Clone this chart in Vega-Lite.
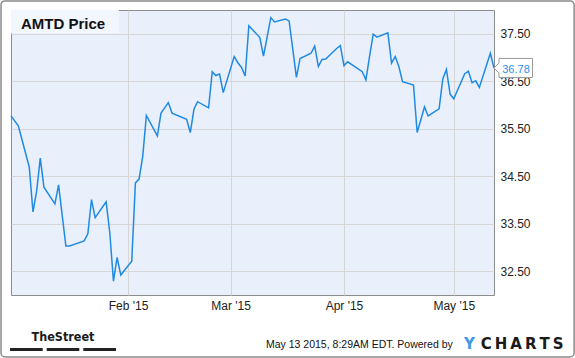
{
  "$schema": "https://vega.github.io/schema/vega-lite/v6.json",
  "width": 483,
  "height": 285,
  "autosize": "none",
  "padding": {"left": 11, "top": 10, "right": 81, "bottom": 63},
  "background": "white",
  "config": {
    "font": "Liberation Sans",
    "view": {"fill": "#EAF0FB", "stroke": "#8c8c8c", "strokeWidth": 1},
    "axis": {"labelFont": "Liberation Sans", "labelFontSize": 12, "labelColor": "#222222", "gridColor": "#d6d6d6", "gridWidth": 1, "ticks": false, "domain": false}
  },
  "data": {"values": [
    {"date": "2014-12-31T00:00", "price": 35.77},
    {"date": "2015-01-02T00:00", "price": 35.56},
    {"date": "2015-01-05T00:00", "price": 34.69},
    {"date": "2015-01-06T00:00", "price": 33.75},
    {"date": "2015-01-07T00:00", "price": 34.18},
    {"date": "2015-01-08T00:00", "price": 34.88},
    {"date": "2015-01-09T00:00", "price": 34.27},
    {"date": "2015-01-12T00:00", "price": 33.92},
    {"date": "2015-01-13T00:00", "price": 34.32},
    {"date": "2015-01-14T00:00", "price": 33.67},
    {"date": "2015-01-15T00:00", "price": 33.03},
    {"date": "2015-01-16T00:00", "price": 33.03},
    {"date": "2015-01-20T00:00", "price": 33.14},
    {"date": "2015-01-21T00:00", "price": 33.29},
    {"date": "2015-01-22T00:00", "price": 34.01},
    {"date": "2015-01-23T00:00", "price": 33.63},
    {"date": "2015-01-26T00:00", "price": 33.96},
    {"date": "2015-01-27T00:00", "price": 33.31},
    {"date": "2015-01-28T00:00", "price": 32.29},
    {"date": "2015-01-29T00:00", "price": 32.79},
    {"date": "2015-01-30T00:00", "price": 32.42},
    {"date": "2015-02-02T00:00", "price": 32.71},
    {"date": "2015-02-03T00:00", "price": 34.36},
    {"date": "2015-02-04T00:00", "price": 34.44},
    {"date": "2015-02-05T00:00", "price": 34.92},
    {"date": "2015-02-06T00:00", "price": 35.78},
    {"date": "2015-02-09T00:00", "price": 35.35},
    {"date": "2015-02-10T00:00", "price": 35.83},
    {"date": "2015-02-11T00:00", "price": 35.94},
    {"date": "2015-02-12T00:00", "price": 36.05},
    {"date": "2015-02-13T00:00", "price": 35.83},
    {"date": "2015-02-17T00:00", "price": 35.70},
    {"date": "2015-02-18T00:00", "price": 35.42},
    {"date": "2015-02-19T00:00", "price": 35.91},
    {"date": "2015-02-20T00:00", "price": 36.07},
    {"date": "2015-02-23T00:00", "price": 35.94},
    {"date": "2015-02-24T00:00", "price": 36.70},
    {"date": "2015-02-25T00:00", "price": 36.62},
    {"date": "2015-02-26T00:00", "price": 36.65},
    {"date": "2015-02-27T00:00", "price": 36.26},
    {"date": "2015-03-02T00:00", "price": 37.02},
    {"date": "2015-03-03T00:00", "price": 36.89},
    {"date": "2015-03-04T00:00", "price": 36.79},
    {"date": "2015-03-05T00:00", "price": 36.61},
    {"date": "2015-03-06T00:00", "price": 37.67},
    {"date": "2015-03-09T00:00", "price": 37.42},
    {"date": "2015-03-10T00:00", "price": 37.03},
    {"date": "2015-03-11T00:00", "price": 37.43},
    {"date": "2015-03-12T00:00", "price": 37.84},
    {"date": "2015-03-13T00:00", "price": 37.75},
    {"date": "2015-03-16T00:00", "price": 37.81},
    {"date": "2015-03-17T00:00", "price": 37.77},
    {"date": "2015-03-18T00:00", "price": 37.18},
    {"date": "2015-03-19T00:00", "price": 36.58},
    {"date": "2015-03-20T00:00", "price": 36.98},
    {"date": "2015-03-23T00:00", "price": 37.09},
    {"date": "2015-03-24T00:00", "price": 37.24},
    {"date": "2015-03-25T00:00", "price": 36.81},
    {"date": "2015-03-26T00:00", "price": 36.96},
    {"date": "2015-03-27T00:00", "price": 36.97},
    {"date": "2015-03-30T00:00", "price": 37.19},
    {"date": "2015-03-31T00:00", "price": 37.25},
    {"date": "2015-04-01T00:00", "price": 36.83},
    {"date": "2015-04-02T00:00", "price": 36.91},
    {"date": "2015-04-06T00:00", "price": 36.70},
    {"date": "2015-04-07T00:00", "price": 36.53},
    {"date": "2015-04-08T00:00", "price": 37.03},
    {"date": "2015-04-09T00:00", "price": 37.49},
    {"date": "2015-04-10T00:00", "price": 37.43},
    {"date": "2015-04-13T00:00", "price": 37.52},
    {"date": "2015-04-14T00:00", "price": 36.88},
    {"date": "2015-04-15T00:00", "price": 37.02},
    {"date": "2015-04-16T00:00", "price": 36.81},
    {"date": "2015-04-17T00:00", "price": 36.49},
    {"date": "2015-04-20T00:00", "price": 36.42},
    {"date": "2015-04-21T00:00", "price": 35.42},
    {"date": "2015-04-22T00:00", "price": 35.69},
    {"date": "2015-04-23T00:00", "price": 35.96},
    {"date": "2015-04-24T00:00", "price": 35.77},
    {"date": "2015-04-27T00:00", "price": 35.92},
    {"date": "2015-04-28T00:00", "price": 36.55},
    {"date": "2015-04-29T00:00", "price": 36.75},
    {"date": "2015-04-30T00:00", "price": 36.23},
    {"date": "2015-05-01T00:00", "price": 36.13},
    {"date": "2015-05-04T00:00", "price": 36.66},
    {"date": "2015-05-05T00:00", "price": 36.71},
    {"date": "2015-05-06T00:00", "price": 36.47},
    {"date": "2015-05-07T00:00", "price": 36.51},
    {"date": "2015-05-08T00:00", "price": 36.37},
    {"date": "2015-05-11T00:00", "price": 37.09},
    {"date": "2015-05-12T00:00", "price": 36.78}
  ]},
  "layer": [
    {
      "mark": {"type": "line", "stroke": "#1f8ae4", "strokeWidth": 1.5},
      "encoding": {
        "x": {
          "field": "date", "type": "temporal", "title": null,
          "scale": {"domain": [{"year": 2014, "month": 12, "date": 31}, {"year": 2015, "month": 5, "date": 12}], "nice": false},
          "axis": {"orient": "bottom", "grid": true, "title": null, "format": "%b '%y", "labelPadding": 5, "labelFlush": false,
            "values": [{"year": 2015, "month": 2, "date": 1}, {"year": 2015, "month": 3, "date": 1}, {"year": 2015, "month": 4, "date": 1}, {"year": 2015, "month": 5, "date": 1}]}
        },
        "y": {
          "field": "price", "type": "quantitative", "title": null,
          "scale": {"domain": [32, 38], "nice": false, "zero": false},
          "axis": {"orient": "right", "grid": true, "title": null, "format": ".2f", "labelPadding": 6, "labelFlush": false,
            "values": [32.5, 33.5, 34.5, 35.5, 36.5, 37.5]}
        }
      }
    },
    {
      "data": {"values": [{}]},
      "mark": {"type": "rect", "filled": false, "stroke": "#8a8a8a", "strokeWidth": 1.5, "cornerRadius": 4},
      "encoding": {
        "x": {"datum": {"year": 2014, "month": 12, "date": 28, "hours": 6, "minutes": 30}, "type": "temporal"},
        "x2": {"datum": {"year": 2015, "month": 6, "date": 2, "hours": 21, "minutes": 36}},
        "y": {"datum": 38.19, "type": "quantitative"},
        "y2": {"datum": 30.695}
      }
    },
    {
      "data": {"values": [{}]},
      "mark": {"type": "rect", "fill": "#F2F6FD"},
      "encoding": {
        "x": {"datum": {"year": 2014, "month": 12, "date": 31}, "type": "temporal"},
        "x2": {"datum": {"year": 2015, "month": 1, "date": 29, "hours": 12}},
        "y": {"datum": 38, "type": "quantitative"},
        "y2": {"datum": 37.51}
      }
    },
    {
      "transform": [{"filter": {"field": "date", "equal": {"year": 2015, "month": 5, "date": 12}}}],
      "mark": {"type": "point", "shape": "M0,0L5,-5L5,-9.5L38.5,-9.5L38.5,9.5L5,9.5L5,5Z", "size": 4, "filled": true, "fill": "#ffffff", "stroke": "#9a9a9a", "strokeWidth": 1, "opacity": 1},
      "encoding": {
        "x": {"field": "date", "type": "temporal"},
        "y": {"field": "price", "type": "quantitative"}
      }
    },
    {
      "transform": [{"filter": {"field": "date", "equal": {"year": 2015, "month": 5, "date": 12}}}],
      "mark": {"type": "text", "align": "center", "baseline": "middle", "dx": 22, "dy": 2, "fontSize": 11, "font": "Liberation Sans", "fill": "#2d8fe6"},
      "encoding": {
        "x": {"field": "date", "type": "temporal"},
        "y": {"field": "price", "type": "quantitative"},
        "text": {"field": "price", "type": "quantitative", "format": ".2f"}
      }
    },
    {
      "data": {"values": [{}]},
      "mark": {"type": "text", "text": "AMTD Price", "align": "left", "baseline": "alphabetic", "fontSize": 15, "fontWeight": "bold", "font": "Liberation Sans", "fill": "#111111"},
      "encoding": {
        "x": {"datum": {"year": 2015, "month": 1, "date": 2, "hours": 17, "minutes": 30}, "type": "temporal"},
        "y": {"datum": 37.6, "type": "quantitative"}
      }
    },
    {
      "data": {"values": [{}]},
      "mark": {"type": "text", "text": "TheStreet", "align": "center", "baseline": "alphabetic", "fontSize": 12.5, "fontWeight": "bold", "font": "Liberation Sans Narrow, DejaVu Sans Condensed, Liberation Sans, sans-serif", "fill": "#1a1a1a"},
      "encoding": {
        "x": {"datum": {"year": 2015, "month": 1, "date": 14, "hours": 5}, "type": "temporal"},
        "y": {"datum": 31.04, "type": "quantitative"}
      }
    },
    {
      "data": {"values": [{}]},
      "mark": {"type": "rect", "fill": "#222222"},
      "encoding": {
        "x": {"datum": {"year": 2014, "month": 12, "date": 30, "hours": 17, "minutes": 30}, "type": "temporal"},
        "x2": {"datum": {"year": 2015, "month": 1, "date": 8, "hours": 15, "minutes": 50}},
        "y": {"datum": 30.884, "type": "quantitative"},
        "y2": {"datum": 30.821}
      }
    },
    {
      "data": {"values": [{}]},
      "mark": {"type": "rect", "fill": "#222222"},
      "encoding": {
        "x": {"datum": {"year": 2015, "month": 1, "date": 9, "hours": 18, "minutes": 14}, "type": "temporal"},
        "x2": {"datum": {"year": 2015, "month": 1, "date": 18, "hours": 16}},
        "y": {"datum": 30.884, "type": "quantitative"},
        "y2": {"datum": 30.821}
      }
    },
    {
      "data": {"values": [{}]},
      "mark": {"type": "rect", "fill": "#222222"},
      "encoding": {
        "x": {"datum": {"year": 2015, "month": 1, "date": 19, "hours": 18, "minutes": 14}, "type": "temporal"},
        "x2": {"datum": {"year": 2015, "month": 1, "date": 28, "hours": 16, "minutes": 48}},
        "y": {"datum": 30.884, "type": "quantitative"},
        "y2": {"datum": 30.821}
      }
    },
    {
      "data": {"values": [{}]},
      "mark": {"type": "text", "text": "May 13 2015, 8:29AM EDT.  Powered by", "align": "left", "baseline": "alphabetic", "fontSize": 10.5, "font": "Liberation Sans", "fill": "#111111"},
      "encoding": {
        "x": {"datum": {"year": 2015, "month": 3, "date": 10, "hours": 16, "minutes": 30}, "type": "temporal"},
        "y": {"datum": 30.884, "type": "quantitative"}
      }
    },
    {
      "data": {"values": [{}]},
      "mark": {"type": "text", "text": "Y", "align": "left", "baseline": "alphabetic", "fontSize": 15, "fontWeight": "bold", "font": "DejaVu Sans", "fill": "#3d9ae8"},
      "encoding": {
        "x": {"datum": {"year": 2015, "month": 5, "date": 3, "hours": 19}, "type": "temporal"},
        "y": {"datum": 30.857, "type": "quantitative"}
      }
    },
    {
      "data": {"values": [{}]},
      "mark": {"type": "text", "text": "C\u2009H\u2009A\u2009R\u2009T\u2009S", "align": "left", "baseline": "alphabetic", "fontSize": 15, "fontWeight": "bold", "font": "DejaVu Sans", "fill": "#1a1a1a"},
      "encoding": {
        "x": {"datum": {"year": 2015, "month": 5, "date": 8, "hours": 9}, "type": "temporal"},
        "y": {"datum": 30.857, "type": "quantitative"}
      }
    }
  ]
}
